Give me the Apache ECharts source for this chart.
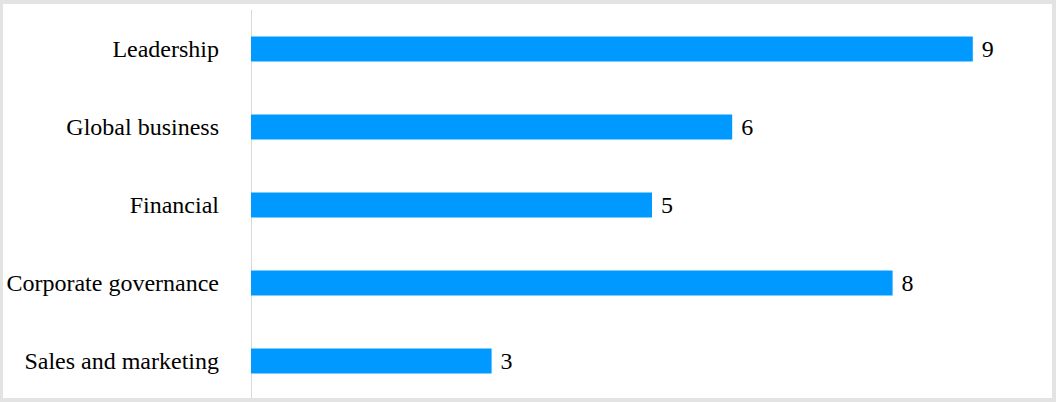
<!DOCTYPE html>
<html><head><meta charset="utf-8">
<script src="https://cdn.jsdelivr.net/npm/echarts@6/dist/echarts.min.js"></script>
<style>
html,body{margin:0;padding:0;background:#fff;}
#c{position:absolute;left:0;top:0;width:1056px;height:402px;}
#b{position:absolute;left:0;top:0;width:1056px;height:402px;box-sizing:border-box;border:3px solid #e3e3e3;border-top-width:4px;border-right-width:4px;border-bottom-width:4px;pointer-events:none;}
</style></head>
<body><div id="c"></div><div id="b"></div>
<script>
const categories = ["Leadership","Global business","Financial","Corporate governance","Sales and marketing"];
const values = [9,6,5,8,3];
const FONT = 'serif';
const chart = echarts.init(document.getElementById('c'), null, {renderer:'svg'});
chart.setOption({
  animation:false,
  backgroundColor:'#fff',
  textStyle:{fontFamily:FONT},
  grid:{left:251,right:3,top:10,bottom:2,containLabel:false},
  xAxis:{type:'value',min:0,max:10,show:false},
  yAxis:{type:'category',data:categories,inverse:true,
    axisLine:{show:true,lineStyle:{color:'#d9d9d9',width:1}},
    axisTick:{show:false},
    axisLabel:{margin:32,color:'#000',fontFamily:FONT,fontSize:24}
  },
  series:[{type:'bar',data:values,barWidth:25,
    itemStyle:{color:'#0099ff'},
    label:{show:true,position:'right',distance:9,color:'#000',fontFamily:FONT,fontSize:24}
  }]
});
</script></body></html>
